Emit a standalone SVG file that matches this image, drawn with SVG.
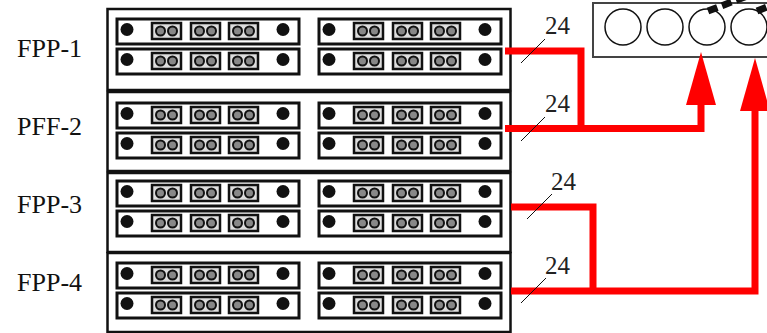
<svg xmlns="http://www.w3.org/2000/svg" width="767" height="333" viewBox="0 0 767 333">
<style>
.rack{fill:#fff;stroke:#111;stroke-width:2.5}
.panel{fill:#fff;stroke:#111;stroke-width:3}
.port{fill:#ddd;stroke:#111;stroke-width:2.500}
.pin{fill:#888;stroke:#111;stroke-width:2}
.screw{fill:#111}
.lbl{font-family:"Liberation Serif",serif;font-size:26px;fill:#111}
.num{font-family:"Liberation Serif",serif;font-size:25px;fill:#222}
.wire{fill:none;stroke:#f00;stroke-width:7}
.tick{stroke:#111;stroke-width:1;fill:none}
</style>
<defs>
<g id="jack"><rect class="port" x="0" y="0" width="29" height="16"/><circle class="pin" cx="8.500" cy="8" r="4.500"/><circle class="pin" cx="20.500" cy="8" r="4.500"/></g>
<g id="pnl"><rect class="panel" x="0" y="0" width="182" height="25"/><circle class="screw" cx="10" cy="10.500" r="6.500"/><circle class="screw" cx="166" cy="10.500" r="6.500"/><use href="#jack" x="35" y="4"/><use href="#jack" x="74" y="4"/><use href="#jack" x="112" y="4"/></g>
<g id="rk"><use href="#pnl" x="0" y="0"/><use href="#pnl" x="202" y="0"/><use href="#pnl" x="0" y="30"/><use href="#pnl" x="202" y="30"/></g>
</defs>
<g id="fpp1"><rect class="rack" x="107.500" y="9" width="403" height="81"/><use href="#rk" x="117" y="19"/><text class="lbl" x="17" y="57">FPP-1</text></g>
<g id="pff2"><rect class="rack" x="107.500" y="92" width="403" height="79"/><use href="#rk" x="117" y="103"/><text class="lbl" x="17" y="135">PFF-2</text></g>
<g id="fpp3"><rect class="rack" x="107.500" y="173" width="403" height="79"/><use href="#rk" x="117" y="181"/><text class="lbl" x="17" y="213">FPP-3</text></g>
<g id="fpp4"><rect class="rack" x="107.500" y="253" width="403" height="79"/><use href="#rk" x="117" y="263"/><text class="lbl" x="17" y="291">FPP-4</text></g>
<g id="box"><rect x="593" y="3" width="180" height="54" fill="#fff" stroke="#444" stroke-width="2"/>
<circle cx="623" cy="27" r="18" fill="#fff" stroke="#111" stroke-width="1.500"/><circle cx="665" cy="27" r="18" fill="#fff" stroke="#111" stroke-width="1.500"/><circle cx="707" cy="27" r="18" fill="#fff" stroke="#111" stroke-width="1.500"/><circle cx="749" cy="27" r="18" fill="#fff" stroke="#111" stroke-width="1.500"/>
<path d="M708 11L750 -5" stroke="#111" stroke-width="7" stroke-dasharray="10 5" fill="none"/><path d="M757 11L775 4" stroke="#111" stroke-width="7" stroke-dasharray="10 5" fill="none"/></g>
<g id="connectors">
<path class="wire" d="M505 51H581V128.500"/><path class="wire" d="M505 128.500H701V100"/><path d="M701 52L716 105H686Z" fill="#f00"/>
<path class="wire" d="M511 207H593V291"/><path class="wire" d="M511 291H755V105"/><path d="M755 58L770 111H740Z" fill="#f00"/>
<path class="tick" d="M521 63L545 39M521 141L545 117M527 219L552 194M521 303L546 278"/>
</g>
<g id="labels"><text class="num" x="545" y="34">24</text><text class="num" x="545" y="112">24</text><text class="num" x="551" y="190">24</text><text class="num" x="545" y="274">24</text></g>
</svg>
